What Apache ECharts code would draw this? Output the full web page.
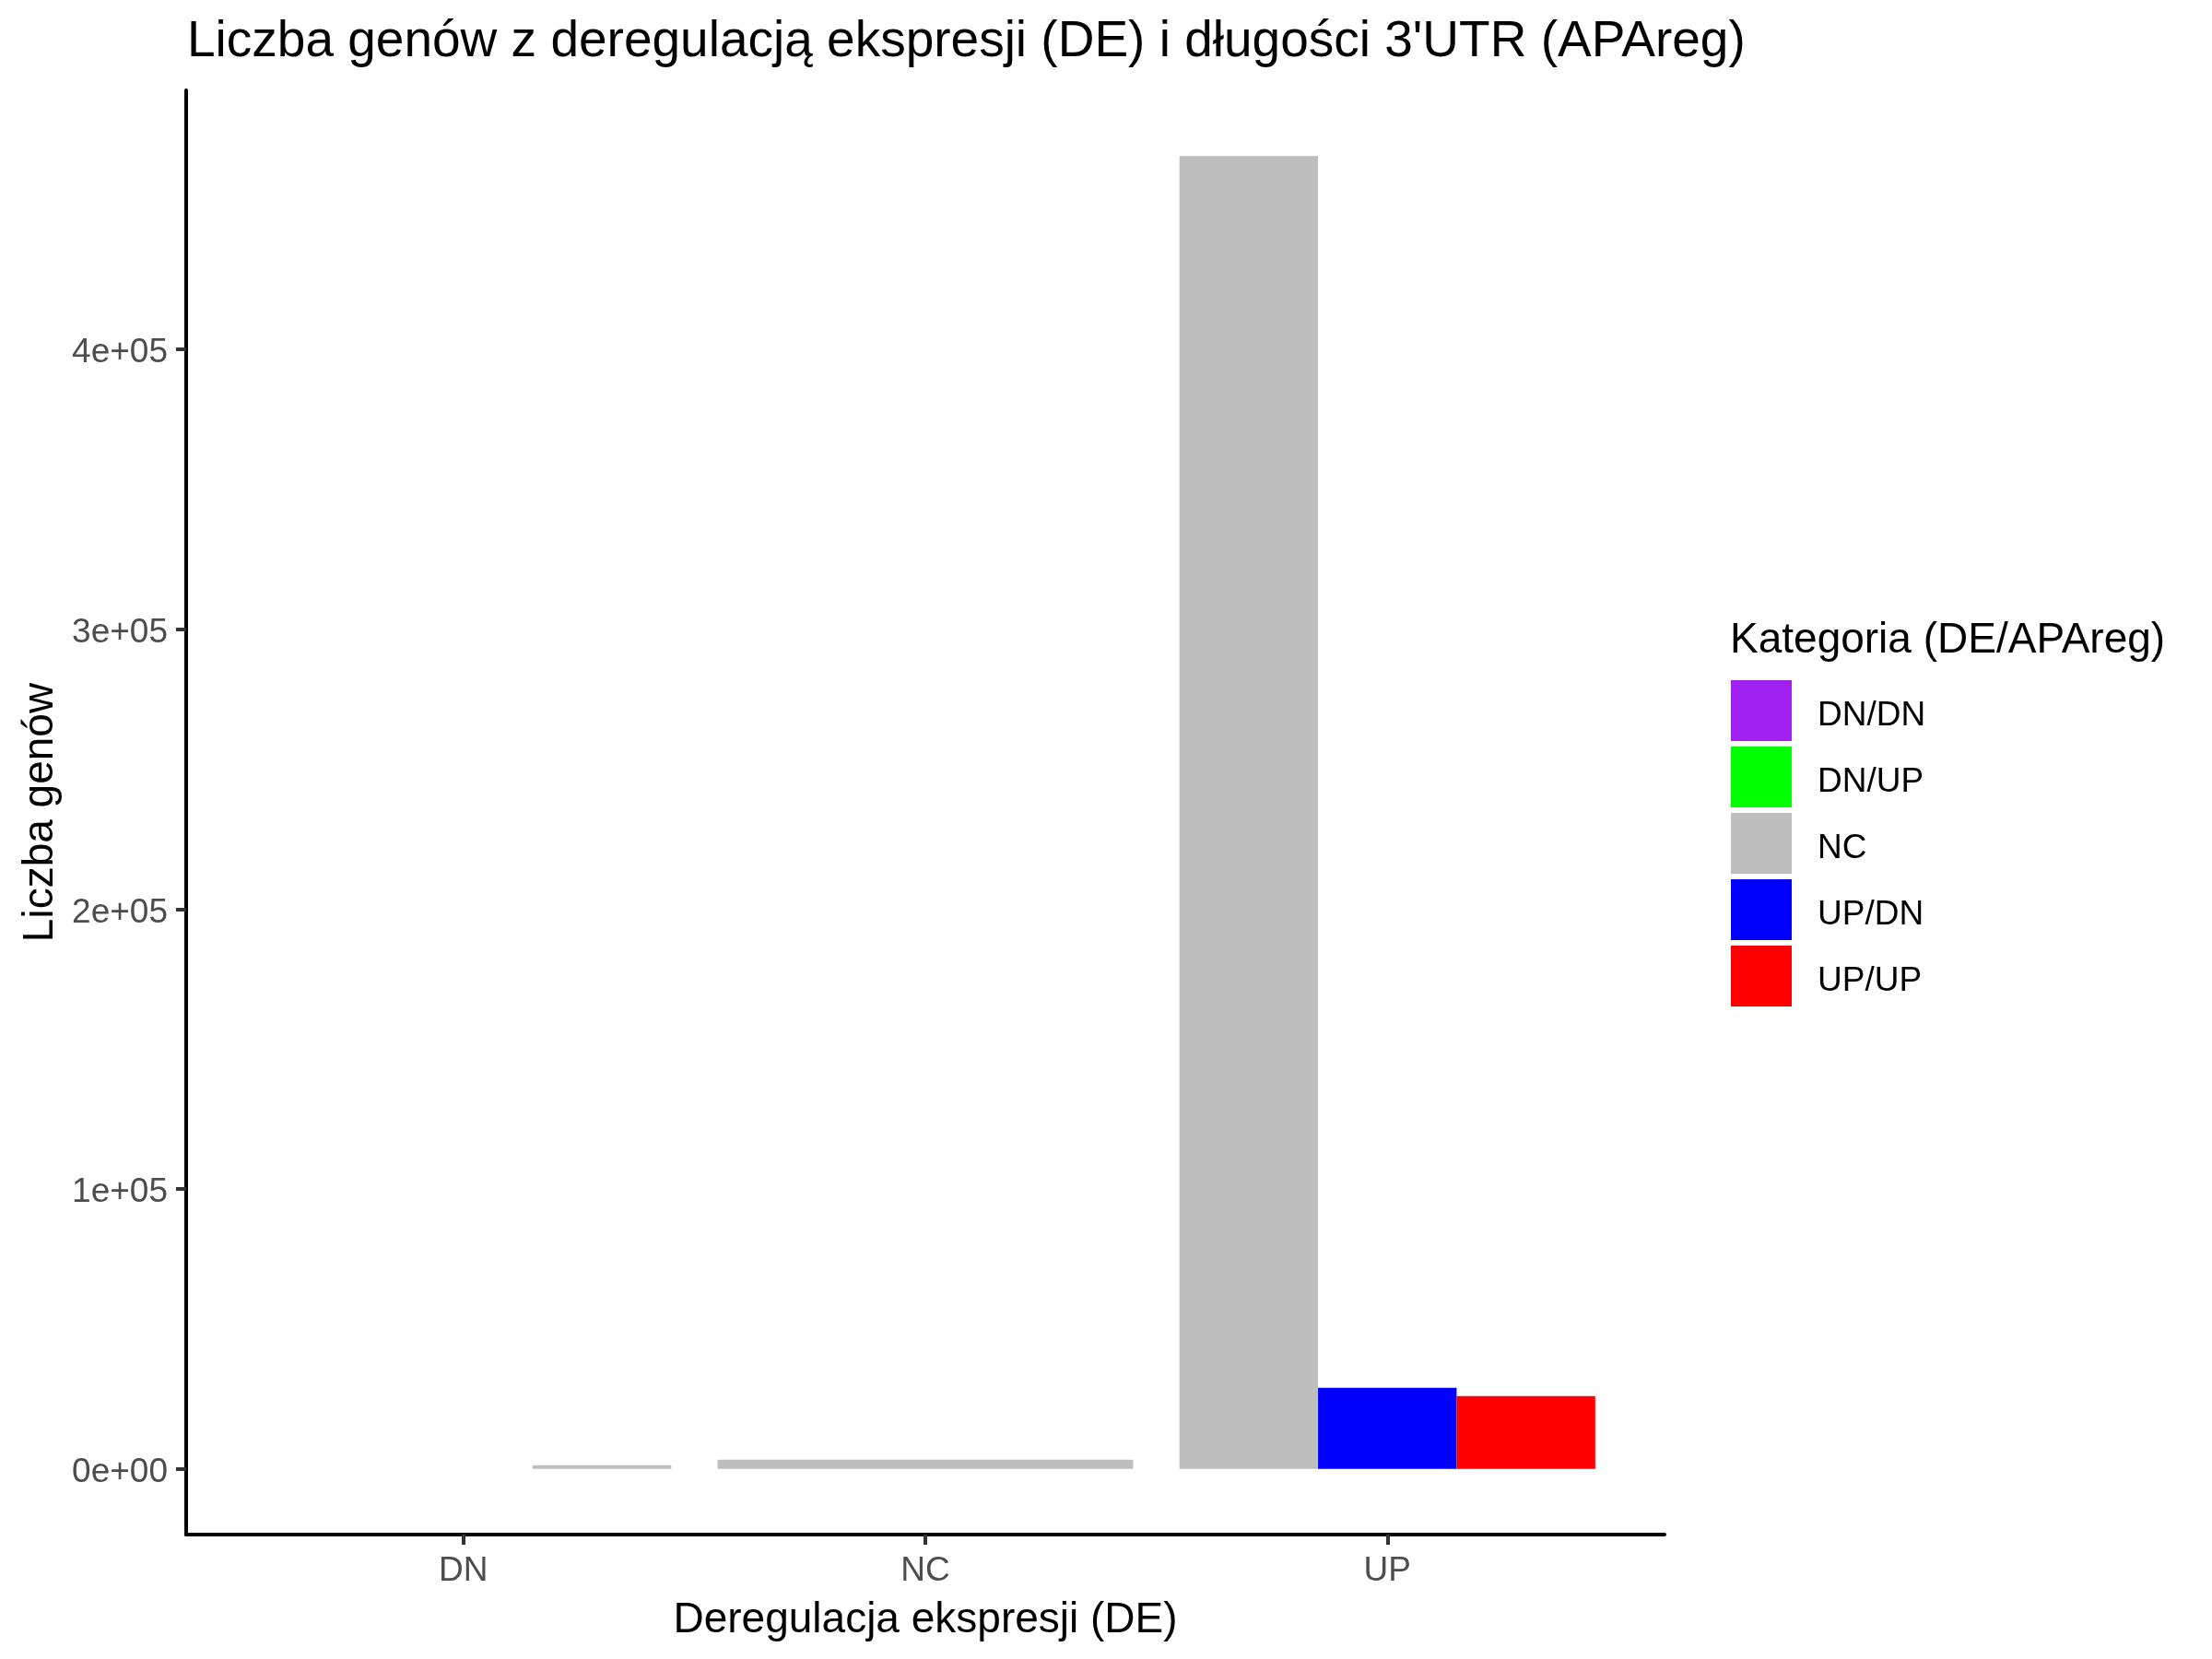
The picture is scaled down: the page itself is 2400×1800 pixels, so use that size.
<!DOCTYPE html>
<html>
<head>
    <meta http-equiv="Content-Type" content="text/html; charset=utf-8">
    <title>Liczba genów DE / APAreg</title>
    <style>
        html, body { margin: 0; padding: 0; background: #fff; }
        #chart_main { width: 2400px; height: 1800px; }
    </style>
</head>
<body>
    <div id="chart_main"></div>

    <script src="https://cdn.jsdelivr.net/npm/echarts@6.0.0/dist/echarts.min.js"></script>
    <script>
        // dane
        var categories = ['DN', 'NC', 'UP'];
        var groups = ['DN/DN', 'DN/UP', 'NC', 'UP/DN', 'UP/UP'];
        var groupColors = ['#A020F0', '#00FF00', '#BEBEBE', '#0000FF', '#FF0000'];
        // liczby genów w kolejności grup; null = brak grupy w danej kategorii
        var dnCounts = [0, 0, 1300, null, null];
        var ncCounts = [null, null, 3300, null, null];
        var upCounts = [null, null, 469100, 29000, 26000];
        var yTicks = [0, 100000, 200000, 300000, 400000];
        var yTickLabels = ['0e+00', '1e+05', '2e+05', '3e+05', '4e+05'];

        var countsByCat = [dnCounts, ncCounts, upCounts];
        var fontName = "'Liberation Sans', Arial, sans-serif";

        // jak position_dodge w ggplot: sloty tylko dla grup obecnych w kategorii
        function seriesData(g) {
            var out = [];
            for (var c = 0; c < categories.length; c++) {
                var row = countsByCat[c];
                if (row[g] === null) { continue; }
                var slot = 0, n = 0;
                for (var k = 0; k < row.length; k++) {
                    if (row[k] !== null) {
                        if (k < g) { slot++; }
                        n++;
                    }
                }
                out.push([c + 1, row[g], slot, n]);
            }
            return out;
        }

        function renderBar(params, api) {
            var x = api.value(0);
            var v = api.value(1);
            var slot = api.value(2);
            var n = api.value(3);
            var w = 0.9 / n;
            var x0 = x - 0.45 + slot * w;
            var p0 = api.coord([x0, 0]);
            var p1 = api.coord([x0 + w, v]);
            return {
                type: 'rect',
                shape: { x: p0[0], y: p1[1], width: p1[0] - p0[0], height: p0[1] - p1[1] },
                style: { fill: api.visual('color') }
            };
        }

        var maxVal = 0;
        countsByCat.forEach(function (row) {
            row.forEach(function (v) { if (v !== null && v > maxVal) { maxVal = v; } });
        });

        var series = [];
        for (var g = 0; g < groups.length; g++) {
            series.push({
                name: groups[g],
                type: 'custom',
                renderItem: renderBar,
                itemStyle: { color: groupColors[g] },
                encode: { x: 0, y: 1 },
                data: seriesData(g)
            });
        }

        var myChart = echarts.init(document.getElementById('chart_main'));

        var option = {
            animation: false,
            backgroundColor: '#ffffff',
            textStyle: { fontFamily: fontName },
            title: [{
                text: "Liczba genów z deregulacją ekspresji (DE) i długości 3'UTR (APAreg)",
                left: 203,
                top: 18,
                padding: 0,
                textStyle: { fontSize: 55, fontWeight: 'normal', color: '#000', fontFamily: fontName }
            }, {
                text: 'Kategoria (DE/APAreg)',
                left: 1877,
                top: 672,
                padding: 0,
                textStyle: { fontSize: 46, fontWeight: 'normal', color: '#000', fontFamily: fontName }
            }],
            legend: {
                orient: 'vertical',
                left: 1878,
                top: 738,
                padding: 0,
                icon: 'rect',
                itemWidth: 66,
                itemHeight: 66,
                itemGap: 6,
                selectedMode: false,
                data: groups,
                formatter: function (name) { return '{t|' + name + '}'; },
                textStyle: {
                    fontSize: 37,
                    color: '#000',
                    fontFamily: fontName,
                    rich: {
                        t: { fontSize: 37, color: '#000', fontFamily: fontName, padding: [12, 0, 0, 23] }
                    }
                }
            },
            grid: {
                left: 202,
                top: 98,
                width: 1604,
                height: 1567,
                containLabel: false
            },
            xAxis: {
                type: 'value',
                min: 0.4,
                max: 3.6,
                name: 'Deregulacja ekspresji (DE)',
                nameLocation: 'middle',
                nameGap: 70,
                nameTextStyle: { fontSize: 46, color: '#000', fontFamily: fontName },
                axisLine: { show: true, onZero: false, lineStyle: { color: '#000', width: 4 } },
                axisTick: { show: true, length: 11, customValues: [1, 2, 3], lineStyle: { color: '#333', width: 4 } },
                axisLabel: {
                    customValues: [1, 2, 3],
                    margin: 21,
                    fontSize: 37,
                    color: '#4D4D4D',
                    fontFamily: fontName,
                    formatter: function (v) { return categories[Math.round(v) - 1]; }
                },
                splitLine: { show: false }
            },
            yAxis: {
                type: 'value',
                min: -0.05 * maxVal,
                max: 1.05 * maxVal,
                name: 'Liczba genów',
                nameLocation: 'middle',
                nameRotate: 90,
                nameGap: 135,
                nameTextStyle: { fontSize: 46, color: '#000', fontFamily: fontName },
                axisLine: { show: true, onZero: false, lineStyle: { color: '#000', width: 4 } },
                axisTick: { show: true, length: 11, customValues: yTicks, lineStyle: { color: '#333', width: 4 } },
                axisLabel: {
                    customValues: yTicks,
                    margin: 20,
                    fontSize: 37,
                    color: '#4D4D4D',
                    fontFamily: fontName,
                    formatter: function (v) {
                        var i = yTicks.indexOf(Math.round(v));
                        return i >= 0 ? '{t|' + yTickLabels[i] + '}' : '';
                    },
                    rich: {
                        t: { fontSize: 37, color: '#4D4D4D', fontFamily: fontName, padding: [8, 0, 0, 0] }
                    }
                },
                splitLine: { show: false }
            },
            series: series
        };

        myChart.setOption(option);
    </script>
</body>
</html>
